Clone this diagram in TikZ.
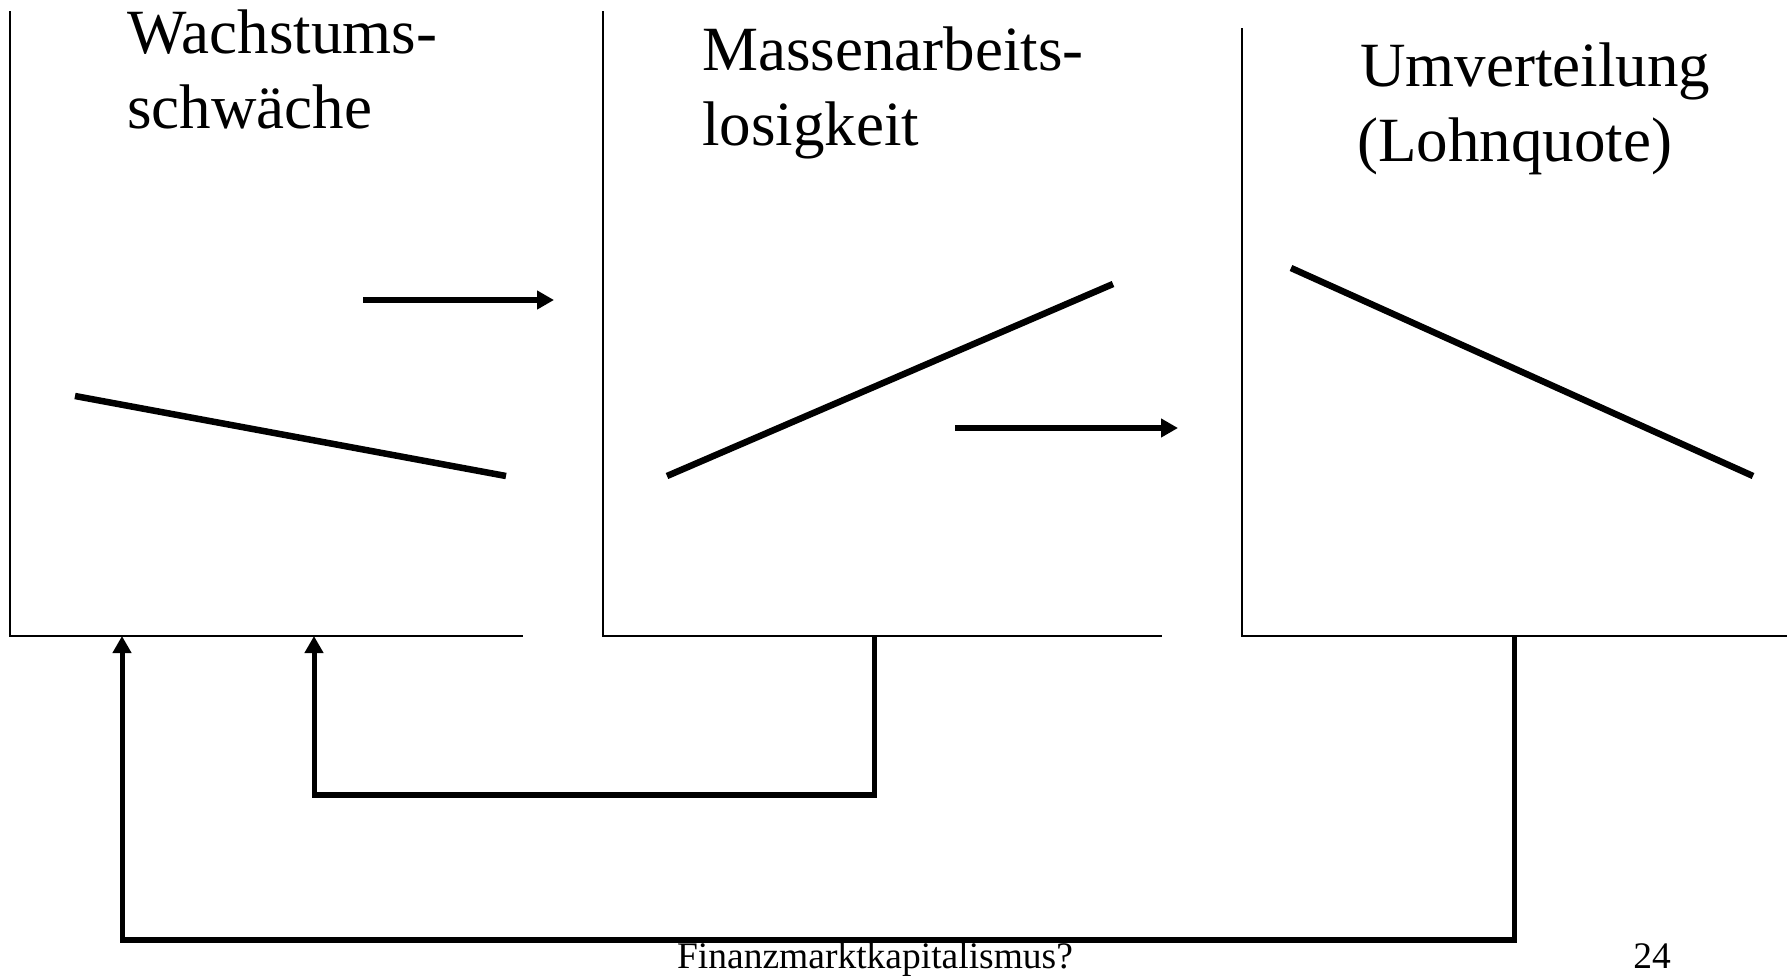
\documentclass[tikz,border=0pt]{standalone}
\usepackage{fontspec}
\setmainfont{Liberation Serif}
\usetikzlibrary{arrows.meta}
\begin{document}
\begin{tikzpicture}[x=1pt,y=-1pt,
  axisline/.style={line width=1.8pt},
  trend/.style={line width=6.5pt},
  flow/.style={line width=6.5pt,-{Triangle[length=17pt,width=18pt]}},
  feedback/.style={line width=5pt,-{Triangle[length=17pt,width=18pt]}},
  barline/.style={line width=6pt},
  title/.style={font=\fontsize{63}{76}\selectfont,inner sep=0pt,anchor=base west},
  foot/.style={font=\fontsize{37.5}{45}\selectfont,inner sep=0pt,anchor=base}]
\useasboundingbox[fill=white] (0,0) rectangle (1790,975);
% panel axes
\coordinate (p1top) at (10,11);   \coordinate (p1o) at (10,636);   \coordinate (p1end) at (523,636);
\coordinate (p2top) at (603,11);  \coordinate (p2o) at (603,636);  \coordinate (p2end) at (1162,636);
\coordinate (p3top) at (1242,28); \coordinate (p3o) at (1242,636); \coordinate (p3end) at (1787,636);
\draw[axisline] (p1top) -- (p1o) -- (p1end);
\draw[axisline] (p2top) -- (p2o) -- (p2end);
\draw[axisline] (p3top) -- (p3o) -- (p3end);
% titles
\node[title] (t1a) at (127,53) {Wachstums-};
\node[title] (t1b) at (127,128) {schwäche};
\node[title] (t2a) at (702,70) {Massenarbeits-};
\node[title] (t2b) at (702,145) {losigkeit};
\node[title] (t3a) at (1360,86) {Umverteilung};
\node[title] (t3b) at (1357,161) {(Lohnquote)};
% trend lines
\coordinate (l1a) at (75,396);   \coordinate (l1b) at (506,476);
\coordinate (l2a) at (667,476);  \coordinate (l2b) at (1113,284);
\coordinate (l3a) at (1291,268); \coordinate (l3b) at (1753,476);
\draw[trend] (l1a) -- (l1b);
\draw[trend] (l2a) -- (l2b);
\draw[trend] (l3a) -- (l3b);
% flow arrows
\coordinate (f1a) at (363,300);  \coordinate (f1b) at (554,300);
\coordinate (f2a) at (955,428);  \coordinate (f2b) at (1178,428);
\draw[flow] (f1a) -- (f1b);
\draw[flow] (f2a) -- (f2b);
% feedback connectors
\coordinate (m2) at (874,636);  \coordinate (m2low) at (874,795);
\coordinate (w2) at (314,636);  \coordinate (w2low) at (314,795);
\coordinate (u3) at (1514,636); \coordinate (u3low) at (1514,940);
\coordinate (w3) at (122,636);  \coordinate (w3low) at (122,940);
\draw[feedback] (m2) -- (m2low) -- (w2low) -- (w2);
\draw[barline] (m2low) -- (w2low);
\draw[feedback] (u3) -- (u3low) -- (w3low) -- (w3);
\draw[barline] (u3low) -- (w3low);
% footer
\node[foot] (footer) at (875,968) {Finanzmarktkapitalismus?};
\node[foot] (page) at (1652,968) {24};
\end{tikzpicture}
\end{document}
